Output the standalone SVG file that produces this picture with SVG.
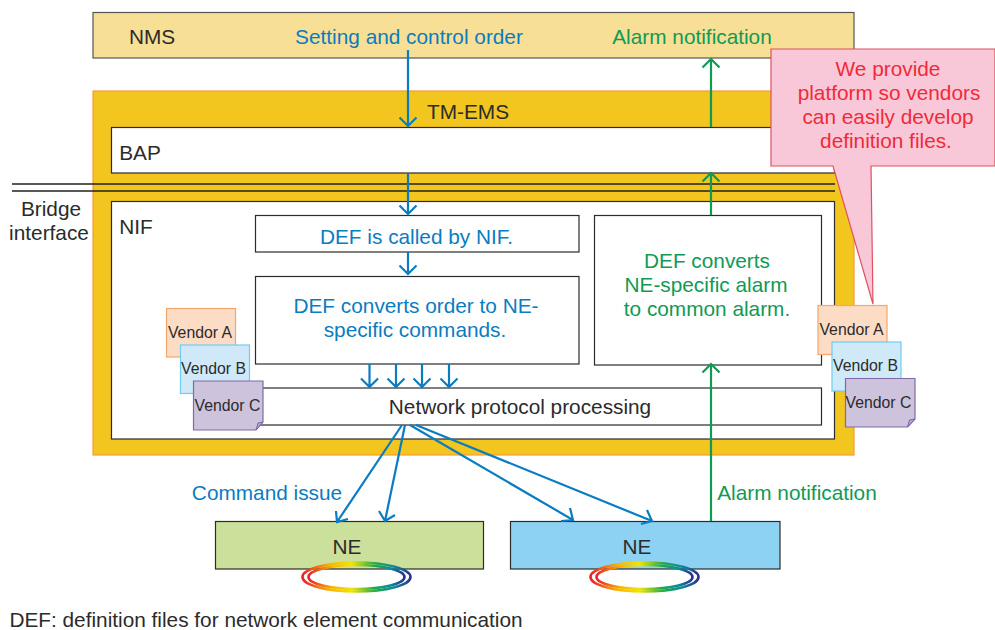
<svg xmlns="http://www.w3.org/2000/svg" width="995" height="630" viewBox="0 0 995 630">
<style>
text{font-family:"Liberation Sans",Arial,sans-serif;font-size:20.8px;fill:#2b2b2b;text-anchor:middle}
.b{fill:#0a7cc1}.g{fill:#0f9a55}.r{fill:#f02a38}
.v{font-size:15.8px}
.box{fill:#fff;stroke:#2b2b2b;stroke-width:1.2}
.lb{fill:none;stroke:#0a7cc1;stroke-width:2.2}
.lg{fill:none;stroke:#0f9a55;stroke-width:2.2}
.ring{fill:none;stroke:url(#rb);stroke-width:2.6}
.fold{fill:#b9a6d0;stroke:#7d62a6;stroke-width:1}
</style>
<defs>
<linearGradient id="rb" x1="0" x2="1" y1="0" y2="0">
<stop offset="0" stop-color="#e8202a"/><stop offset=".25" stop-color="#f7b500"/><stop offset=".45" stop-color="#f2e500"/><stop offset=".68" stop-color="#1faa4a"/><stop offset=".85" stop-color="#0f8a9a"/><stop offset="1" stop-color="#27308f"/>
</linearGradient>
<g id="rings"><ellipse cx="0" cy="0" rx="54" ry="14.5" class="ring"/><ellipse cx="0" cy="0" rx="48" ry="12" class="ring"/></g>
</defs>

<g id="nms"><rect x="93" y="12.500" width="761" height="45.500" fill="#f7df96" stroke="#555" stroke-width="1.200"/><text x="152" y="44">NMS</text><text class="b" x="409" y="44">Setting and control order</text><text class="g" x="692" y="44">Alarm notification</text></g>

<g id="tm-ems"><rect x="93" y="91" width="761" height="364" fill="#f2c61f" stroke="#f59a3a" stroke-width="1.200"/><text x="468" y="119">TM-EMS</text></g>
<g id="bap"><rect class="box" x="111.500" y="127.500" width="723" height="45.500"/><text x="140" y="160">BAP</text></g>
<g id="nif"><rect class="box" x="111.500" y="201.500" width="723" height="237.500"/><text x="136" y="234">NIF</text></g>

<g id="bridge"><path d="M12 184H835M12 191H835" fill="none" stroke="#222" stroke-width="1.300"/><text x="51" y="216">Bridge</text><text x="49" y="239.500">interface</text></g>

<g id="def-called"><rect class="box" x="255.500" y="215.500" width="323.500" height="36.500"/><text class="b" x="416.500" y="244">DEF is called by NIF.</text></g>
<g id="def-order"><rect class="box" x="255.500" y="276.500" width="323.500" height="87.500"/><text class="b" x="416" y="313">DEF converts order to NE-</text><text class="b" x="415" y="337">specific commands.</text></g>
<g id="def-alarm"><rect class="box" x="594.500" y="215.500" width="227" height="149.500"/><text class="g" x="707" y="268">DEF converts</text><text class="g" x="706" y="292">NE-specific alarm</text><text class="g" x="707" y="316">to common alarm.</text></g>
<g id="protocol"><rect class="box" x="215" y="388" width="606.500" height="37"/><text x="520" y="414">Network protocol processing</text></g>

<g id="ne1"><rect x="215.500" y="521.500" width="268" height="47.500" fill="#cbe09a" stroke="#2b2b2b" stroke-width="1.200"/><text x="347" y="553.500">NE</text><use href="#rings" x="356.500" y="577"/></g>
<g id="ne2"><rect x="510.500" y="521.500" width="269.500" height="47.500" fill="#8dd2f3" stroke="#2b2b2b" stroke-width="1.200"/><text x="637" y="553.500">NE</text><use href="#rings" x="644.500" y="577"/></g>

<g id="connectors">
<path class="lb" d="M408 50V126M399.500 117.500L408 126L416.500 117.500"/>
<path class="lb" d="M408 173V214M399.500 205.500L408 214L416.500 205.500"/>
<path class="lb" d="M408 252V274M399.500 265.500L408 274L416.500 265.500"/>
<path class="lb" d="M369.500 364V387M361 378.500L369.500 387L378 378.500"/>
<path class="lb" d="M396 364V387M387.500 378.500L396 387L404.500 378.500"/>
<path class="lb" d="M422 364V387M413.500 378.500L422 387L430.500 378.500"/>
<path class="lb" d="M449 364V387M440.500 378.500L449 387L457.500 378.500"/>
<path class="lb" d="M402 425L337 522M336 511L337 522L348 519"/>
<path class="lb" d="M405 425L385 521M379 511L385 521L395 515"/>
<path class="lb" d="M410 425L573 520M561 521L573 520L570 508"/>
<path class="lb" d="M416 425L652 521M641 524L652 521L647 510"/>
<path class="lg" d="M711 521V364M702.500 372.500L711 364L719.500 372.500"/>
<path class="lg" d="M711 215V173M702.500 181.500L711 173L719.500 181.500"/>
<path class="lg" d="M711 127V59M702.500 67.500L711 59L719.500 67.500"/>
</g>
<text class="b" x="267" y="500">Command issue</text>
<text class="g" x="797" y="500">Alarm notification</text>

<g id="vendors-left">
<rect x="166.500" y="308.500" width="69" height="48.500" fill="#fcdcc4" stroke="#f5a66a" stroke-width="1.200"/><text class="v" x="200" y="338">Vendor A</text>
<rect x="180.500" y="345" width="69" height="48.500" fill="#d0e9f8" stroke="#6fcdf0" stroke-width="1.200"/><text class="v" x="213.500" y="374">Vendor B</text>
<path d="M193.500 381H263V422L256 430H193.500Z" fill="#cdc3dd" stroke="#8069a8" stroke-width="1.200"/><path class="fold" d="M256 430L258 423L263 422Z"/><text class="v" x="227.500" y="411">Vendor C</text>
</g>

<g id="callout"><path d="M771 49H995V166H871L873 304L833 166H771Z" fill="#f9c8d8" stroke="#e0505f" stroke-width="1.200"/>
<text class="r" x="888" y="75.500">We provide</text><text class="r" x="889" y="99.500">platform so vendors</text><text class="r" x="888" y="123.500">can easily develop</text><text class="r" x="886" y="147.500">definition files.</text></g>

<g id="vendors-right">
<rect x="818" y="305.500" width="69" height="49" fill="#fcdcc4" stroke="#f5a66a" stroke-width="1.200"/><text class="v" x="851.500" y="335">Vendor A</text>
<rect x="832" y="342" width="69" height="49" fill="#d0e9f8" stroke="#6fcdf0" stroke-width="1.200"/><text class="v" x="865.500" y="371">Vendor B</text>
<path d="M845.500 378.500H915V419L907.500 427H845.500Z" fill="#cdc3dd" stroke="#8069a8" stroke-width="1.200"/><path class="fold" d="M907.500 427L909.500 420L915 419Z"/><text class="v" x="878.500" y="408">Vendor C</text>
</g>

<text id="footnote" x="266" y="626.500">DEF: definition files for network element communication</text>
</svg>
